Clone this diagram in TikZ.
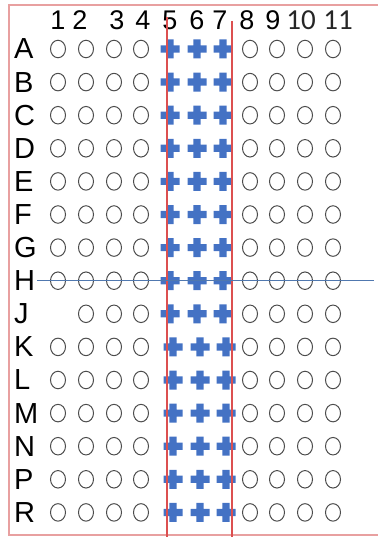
\documentclass[tikz,border=0pt]{standalone}
\usepackage{fontspec}
\setmainfont{Liberation Sans}
\newfontfamily\lightfont{Carlito}
\usetikzlibrary{shapes.geometric, positioning}
\definecolor{plusblue}{RGB}{68,114,196}
\definecolor{framepink}{RGB}{232,160,160}
\definecolor{bandred}{RGB}{220,80,80}
\definecolor{cutblue}{RGB}{80,120,175}

\begin{document}
\begin{tikzpicture}[x=1pt, y=-1pt,
  well/.style={draw=black!70, line width=1pt, ellipse, minimum width=15pt, minimum height=17.5pt, inner sep=0pt},
  rowlabel/.style={font=\fontsize{29}{29}\selectfont, inner sep=0pt, anchor=west},
  collabel/.style={font=\fontsize{27}{27}\selectfont, inner sep=0pt},
  thincol/.style={font=\lightfont\fontsize{29}{29}\selectfont, text=black!85, inner sep=0pt},
  plusmark/.pic={\fill[plusblue] (-9.5,-3.6) -- (-3.6,-3.6) -- (-3.6,-9.5) -- (3.6,-9.5) -- (3.6,-3.6) -- (9.5,-3.6) -- (9.5,3.6) -- (3.6,3.6) -- (3.6,9.5) -- (-3.6,9.5) -- (-3.6,3.6) -- (-9.5,3.6) -- cycle;}]
  \useasboundingbox (0,0) rectangle (377,537);
  \draw[framepink, line width=2pt] (9,5) rectangle (392,535);

  % column numbers
  \foreach \c/\x in {1/58, 2/80, 3/117, 4/143, 5/170, 6/197, 7/220, 8/247, 9/273}
    \node[collabel] (col\c) at (\x,20) {\c};
  \node[thincol] (col10) at (301,20) {10};
  \node[thincol] (col11) at (338,20) {11};

  % row letters, wells and plus marks
  \foreach \r [count=\i] in {A,B,C,D,E,F,G,H,J,K,L,M,N,P,R} {
    \node[rowlabel] (row\r) at (14,{49+(\i-1)*33.1}) {\r};
    \foreach \c/\x in {1/58, 2/86, 3/114, 4/141, 8/250, 9/277, 10/305, 11/333} {
      \ifnum\numexpr\i*100+\c\relax=901 \else
        \node[well] (w\r\c) at (\x,{49+(\i-1)*33.1}) {};
      \fi
    }
    \foreach \c/\x in {5/170, 6/197, 7/223} {
      \ifnum\i>9
        \pic (p\r\c) at ({\x+3},{49+(\i-1)*33.1}) {plusmark};
      \else
        \pic (p\r\c) at (\x,{49+(\i-1)*33.1}) {plusmark};
      \fi
    }
  }

  % band and cut lines
  \coordinate (bandLtop) at (167,17);
  \coordinate (bandLbot) at (167,537);
  \coordinate (bandRtop) at (232,21);
  \coordinate (bandRbot) at (232,537);
  \draw[bandred, line width=1.2pt] (bandLtop) -- (bandLbot);
  \draw[bandred, line width=1.2pt] (bandRtop) -- (bandRbot);
  \coordinate (cutL) at (37,280.7);
  \coordinate (cutR) at (374,280.7);
  \draw[cutblue, line width=0.9pt] (cutL) -- (cutR);
\end{tikzpicture}
\end{document}
